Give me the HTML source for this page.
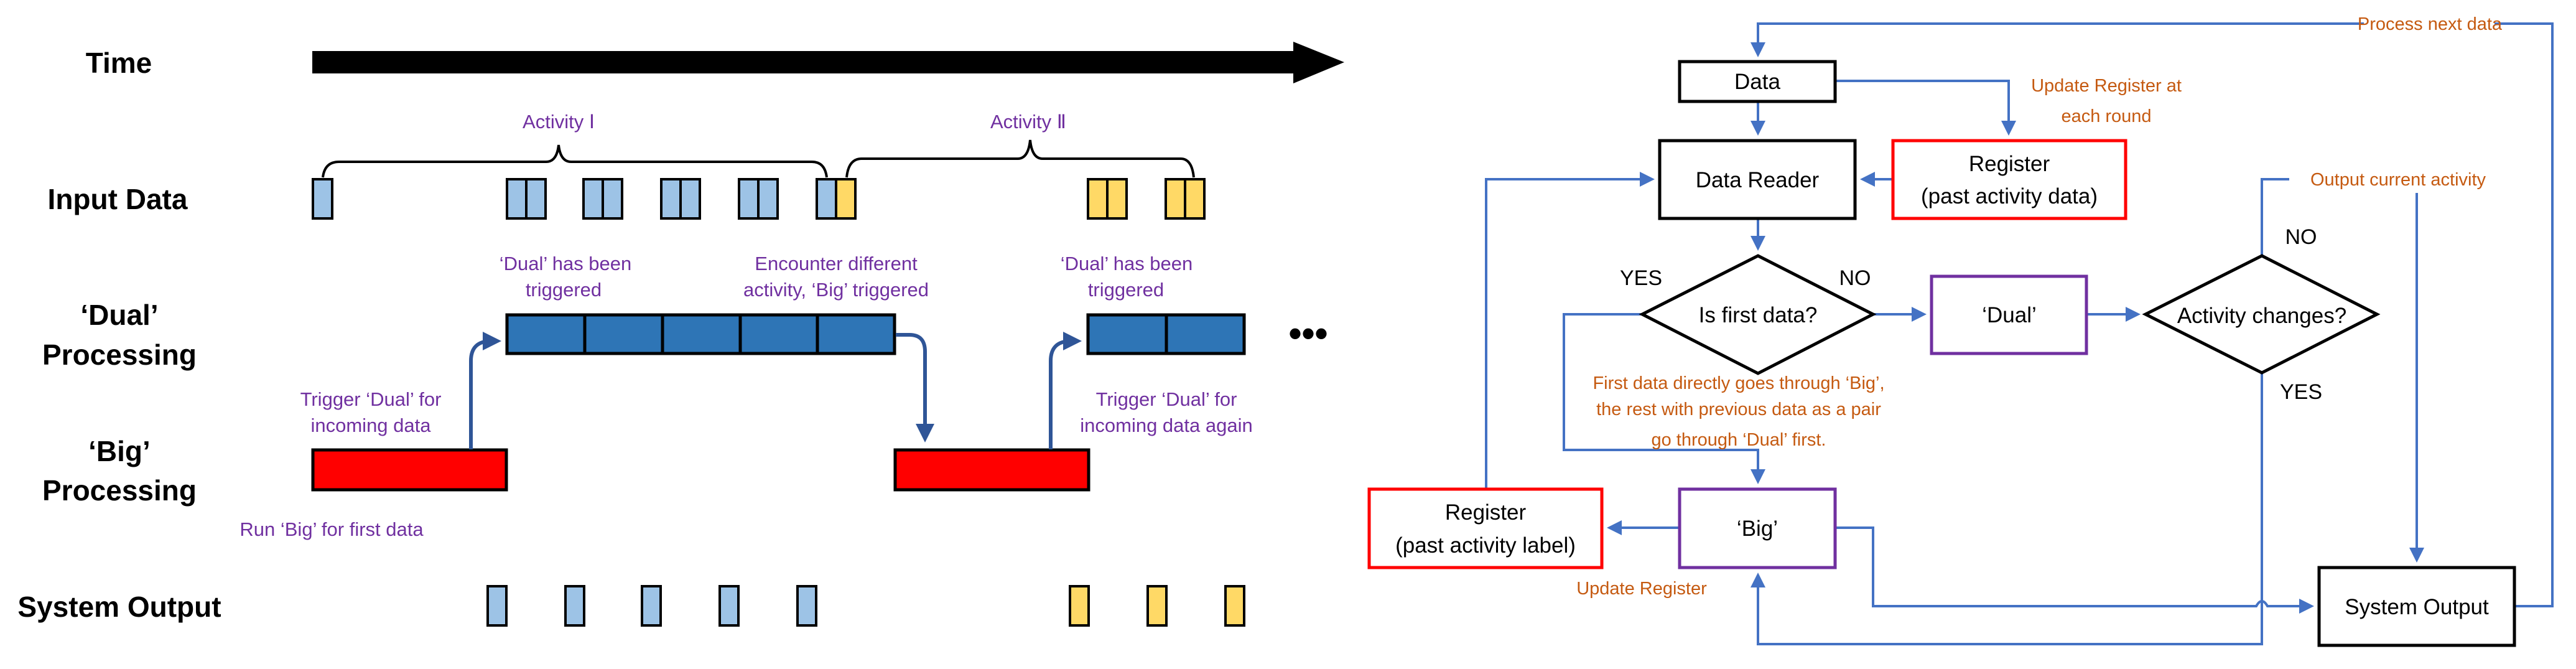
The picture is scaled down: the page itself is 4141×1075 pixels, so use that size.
<!DOCTYPE html>
<html><head><meta charset="utf-8"><style>
html,body{margin:0;padding:0;background:#fff;}
svg{display:block;}
.lb{font-family:"Liberation Sans",sans-serif;font-weight:bold;font-size:46px;fill:#000;}
.pu{font-family:"Liberation Sans",sans-serif;font-size:31px;fill:#7030a0;}
.or{font-family:"Liberation Sans",sans-serif;font-size:29px;fill:#c55a11;}
.bx{font-family:"Liberation Sans",sans-serif;font-size:35px;fill:#000;}
.yn{font-family:"Liberation Sans",sans-serif;font-size:34px;fill:#000;}
</style></head><body>
<svg width="4141" height="1075" viewBox="0 0 4141 1075" xmlns="http://www.w3.org/2000/svg">
<defs>
<marker id="ah" markerWidth="6" markerHeight="6" refX="5" refY="3" orient="auto" markerUnits="strokeWidth"><path d="M0,0 L6,3 L0,6 Z" fill="#4472c4"/></marker>
<marker id="ah2" markerWidth="5" markerHeight="5" refX="4" refY="2.5" orient="auto" markerUnits="strokeWidth"><path d="M0,0 L5,2.5 L0,5 Z" fill="#2f5597"/></marker>
</defs>
<!-- LEFT PANEL -->
<text class="lb" x="191" y="117" text-anchor="middle">Time</text>
<text class="lb" x="189" y="336" text-anchor="middle">Input Data</text>
<text class="lb" x="192" y="522" text-anchor="middle">‘Dual’</text>
<text class="lb" x="192" y="586" text-anchor="middle">Processing</text>
<text class="lb" x="192" y="741" text-anchor="middle">‘Big’</text>
<text class="lb" x="192" y="804" text-anchor="middle">Processing</text>
<text class="lb" x="192" y="991" text-anchor="middle">System Output</text>
<polygon points="502,82 2079,82 2079,67 2161,100 2079,134 2079,118 502,118" fill="#000"/>
<path d="M519,285 Q522,260 545,260 L878,260 Q895,260 898,233 Q901,260 918,260 L1305,260 Q1326,260 1329,285" fill="none" stroke="#000" stroke-width="4"/>
<path d="M1361,285 Q1364,255 1385,255 L1636,255 Q1653,255 1656,225 Q1659,255 1676,255 L1898,255 Q1916,255 1919,285" fill="none" stroke="#000" stroke-width="4"/>
<text class="pu" x="898" y="206" text-anchor="middle" font-size="33">Activity Ⅰ</text>
<text class="pu" x="1653" y="206" text-anchor="middle" font-size="33">Activity Ⅱ</text>
<g stroke="#000" stroke-width="4">
<rect x="503" y="288" width="31" height="63" fill="#9dc3e6"/>
<rect x="815" y="288" width="31" height="63" fill="#9dc3e6"/><rect x="846" y="288" width="31" height="63" fill="#9dc3e6"/>
<rect x="938" y="288" width="31" height="63" fill="#9dc3e6"/><rect x="969" y="288" width="31" height="63" fill="#9dc3e6"/>
<rect x="1063" y="288" width="31" height="63" fill="#9dc3e6"/><rect x="1094" y="288" width="31" height="63" fill="#9dc3e6"/>
<rect x="1188" y="288" width="31" height="63" fill="#9dc3e6"/><rect x="1219" y="288" width="31" height="63" fill="#9dc3e6"/>
<rect x="1313" y="288" width="31" height="63" fill="#9dc3e6"/><rect x="1344" y="288" width="31" height="63" fill="#ffd966"/>
<rect x="1749" y="288" width="31" height="63" fill="#ffd966"/><rect x="1780" y="288" width="31" height="63" fill="#ffd966"/>
<rect x="1874" y="288" width="31" height="63" fill="#ffd966"/><rect x="1905" y="288" width="31" height="63" fill="#ffd966"/>
</g>
<g stroke="#000" stroke-width="5" fill="#2e75b6">
<rect x="815" y="506" width="125" height="62"/><rect x="940" y="506" width="125" height="62"/><rect x="1065" y="506" width="125" height="62"/><rect x="1190" y="506" width="124" height="62"/><rect x="1314" y="506" width="124" height="62"/>
<rect x="1749" y="506" width="126" height="62"/><rect x="1875" y="506" width="125" height="62"/>
</g>
<text x="2103" y="556" text-anchor="middle" font-family="Liberation Sans,sans-serif" font-size="60" font-weight="bold" fill="#000">•••</text>
<g stroke="#000" stroke-width="5" fill="#ff0000">
<rect x="503" y="723" width="311" height="64"/>
<rect x="1439" y="723" width="311" height="64"/>
</g>
<g fill="none" stroke="#2f5597" stroke-width="6">
<path d="M757,722 L757,580 Q757,548 790,548 L800,548" marker-end="url(#ah2)"/>
<path d="M1689,722 L1689,580 Q1689,548 1722,548 L1733,548" marker-end="url(#ah2)"/>
<path d="M1440,538 L1462,538 Q1487,538 1487,565 L1487,705" marker-end="url(#ah2)"/>
</g>
<text class="pu" x="909" y="434" text-anchor="middle">‘Dual’ has been</text>
<text class="pu" x="906" y="476" text-anchor="middle">triggered</text>
<text class="pu" x="1344" y="434" text-anchor="middle">Encounter different</text>
<text class="pu" x="1344" y="476" text-anchor="middle">activity, ‘Big’ triggered</text>
<text class="pu" x="1811" y="434" text-anchor="middle">‘Dual’ has been</text>
<text class="pu" x="1810" y="476" text-anchor="middle">triggered</text>
<text class="pu" x="596" y="652" text-anchor="middle">Trigger ‘Dual’ for</text>
<text class="pu" x="596" y="694" text-anchor="middle">incoming data</text>
<text class="pu" x="1875" y="652" text-anchor="middle">Trigger ‘Dual’ for</text>
<text class="pu" x="1875" y="694" text-anchor="middle">incoming data again</text>
<text class="pu" x="533" y="861" text-anchor="middle">Run ‘Big’ for first data</text>
<g stroke="#000" stroke-width="4">
<rect x="784" y="942" width="30" height="63" fill="#9dc3e6"/>
<rect x="909" y="942" width="30" height="63" fill="#9dc3e6"/>
<rect x="1032" y="942" width="30" height="63" fill="#9dc3e6"/>
<rect x="1157" y="942" width="30" height="63" fill="#9dc3e6"/>
<rect x="1282" y="942" width="30" height="63" fill="#9dc3e6"/>
<rect x="1720" y="942" width="30" height="63" fill="#ffd966"/>
<rect x="1845" y="942" width="30" height="63" fill="#ffd966"/>
<rect x="1970" y="942" width="30" height="63" fill="#ffd966"/>
</g>

<!-- RIGHT PANEL -->
<g fill="none" stroke="#4472c4" stroke-width="4">
<path d="M4042,974 L4103,974 L4103,38 L2826,38 L2826,88" marker-end="url(#ah)"/>
<path d="M2826,163 L2826,214" marker-end="url(#ah)"/>
<path d="M2950,130 L3229,130 L3229,214" marker-end="url(#ah)"/>
<path d="M3043,288 L2994,288" marker-end="url(#ah)"/>
<path d="M2826,351 L2826,399" marker-end="url(#ah)"/>
<path d="M3011,505 L3093,505" marker-end="url(#ah)"/>
<path d="M3354,505 L3437,505" marker-end="url(#ah)"/>
<path d="M2640,505 L2514,505 L2514,723 L2826,723 L2826,774" marker-end="url(#ah)"/>
<path d="M2700,848 L2587,848" marker-end="url(#ah)"/>
<path d="M2389,786 L2389,288 L2656,288" marker-end="url(#ah)"/>
<path d="M2950,848 L3011,848 L3011,974 L3627,974 Q3636,958 3645,974 L3716,974" marker-end="url(#ah)"/>
<path d="M3636,411 L3636,288 L3680,288"/>
<path d="M3885,310 L3885,900" marker-end="url(#ah)"/>
<path d="M3636,599 L3636,1035 L2826,1035 L2826,924" marker-end="url(#ah)"/>
</g>
<rect x="3800" y="20" width="210" height="36" fill="#fff"/>
<text class="or" x="3906" y="48" text-anchor="middle">Process next data</text>
<text class="or" x="3386" y="147" text-anchor="middle">Update Register at</text>
<text class="or" x="3386" y="196" text-anchor="middle">each round</text>
<text class="or" x="3855" y="298" text-anchor="middle">Output current activity</text>
<text class="or" x="2795" y="625" text-anchor="middle">First data directly goes through ‘Big’,</text>
<text class="or" x="2795" y="667" text-anchor="middle">the rest with previous data as a pair</text>
<text class="or" x="2795" y="716" text-anchor="middle">go through ‘Dual’ first.</text>
<text class="or" x="2639" y="955" text-anchor="middle">Update Register</text>
<g stroke-width="5" fill="#fff">
<rect x="2700" y="99" width="250" height="64" stroke="#000"/>
<rect x="2668" y="226" width="314" height="125" stroke="#000"/>
<rect x="3043" y="226" width="374" height="125" stroke="#ff0000"/>
<polygon points="2826,411 3011,505 2826,600 2640,505" stroke="#000"/>
<rect x="3105" y="444" width="249" height="124" stroke="#7030a0"/>
<polygon points="3636,411 3821,505 3636,599 3449,505" stroke="#000"/>
<rect x="2201" y="786" width="374" height="126" stroke="#ff0000"/>
<rect x="2700" y="786" width="250" height="126" stroke="#7030a0"/>
<rect x="3728" y="912" width="314" height="125" stroke="#000"/>
</g>
<text class="bx" x="2825" y="143" text-anchor="middle">Data</text>
<text class="bx" x="2825" y="301" text-anchor="middle">Data Reader</text>
<text class="bx" x="3230" y="275" text-anchor="middle">Register</text>
<text class="bx" x="3230" y="327" text-anchor="middle">(past activity data)</text>
<text class="bx" x="2826" y="518" text-anchor="middle">Is first data?</text>
<text class="bx" x="3230" y="518" text-anchor="middle">‘Dual’</text>
<text class="bx" x="3636" y="519" text-anchor="middle" font-size="40">Activity changes?</text>
<text class="bx" x="2388" y="835" text-anchor="middle">Register</text>
<text class="bx" x="2388" y="888" text-anchor="middle">(past activity label)</text>
<text class="bx" x="2825" y="861" text-anchor="middle">‘Big’</text>
<text class="bx" x="3885" y="987" text-anchor="middle">System Output</text>
<text class="yn" x="2638" y="458" text-anchor="middle">YES</text>
<text class="yn" x="2982" y="458" text-anchor="middle">NO</text>
<text class="yn" x="3699" y="392" text-anchor="middle">NO</text>
<text class="yn" x="3699" y="641" text-anchor="middle">YES</text>
</svg>
</body></html>
